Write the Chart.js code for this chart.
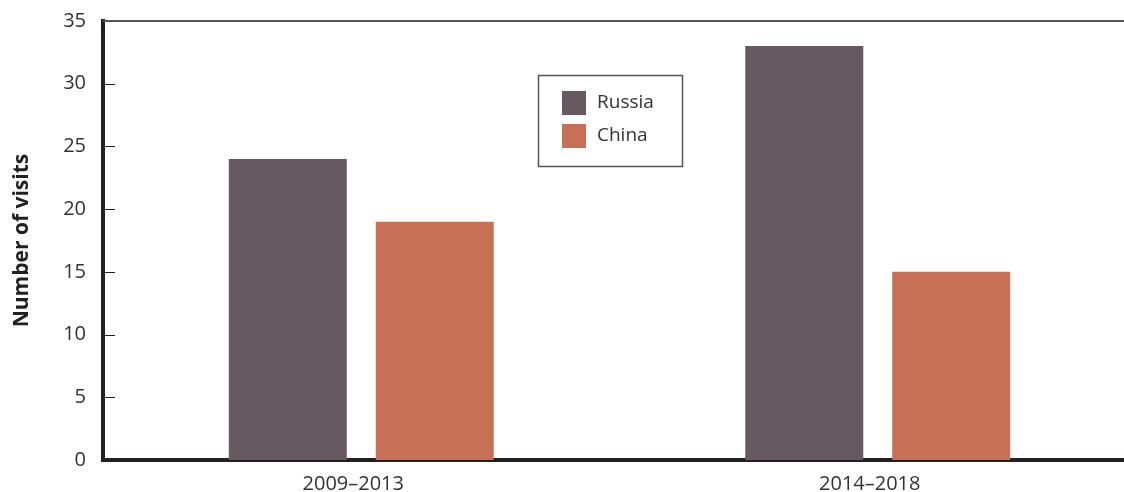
<!DOCTYPE html>
<html>
<head>
<meta charset="utf-8">
<script src="https://cdn.jsdelivr.net/npm/chart.js@4/dist/chart.umd.min.js"></script>
<style>
  html, body { margin: 0; padding: 0; background: #fff; overflow: hidden; }
  #wrap { position: relative; width: 1136px; height: 492px; }
  canvas { display: block; }
</style>
</head>
<body>
<div id="wrap"><canvas id="c" width="1136" height="492"></canvas></div>
<script>
const periods = ['2009–2013', '2014–2018'];
const russiaVisits = [24, 33];
const chinaVisits = [19, 15];
const yTicks = [0, 5, 10, 15, 20, 25, 30, 35];

const FONT = '"Open Sans", Lato, sans-serif';
const INK = '#231f20';

// Short inward tick marks, the thin top rule, and the boxed legend
const decorations = {
  id: 'decorations',
  afterDraw(chart) {
    const { ctx, chartArea } = chart;
    const y = chart.scales.y;
    ctx.save();
    ctx.strokeStyle = INK;
    ctx.lineWidth = 1;
    yTicks.forEach(v => {
      if (v === 0 || v === 35) return;
      const py = Math.round(y.getPixelForValue(v)) + 0.5;
      ctx.beginPath();
      ctx.moveTo(chartArea.left, py);
      ctx.lineTo(chartArea.left + 12, py);
      ctx.stroke();
    });
    // top rule
    ctx.strokeStyle = '#555';
    ctx.lineWidth = 2;
    const ty = Math.round(y.getPixelForValue(35));
    ctx.beginPath();
    ctx.moveTo(chartArea.left, ty);
    ctx.lineTo(chart.width, ty);
    ctx.stroke();

    // legend box
    const bx = 538.5, by = 75.5, bw = 144, bh = 91;
    ctx.strokeStyle = '#555';
    ctx.lineWidth = 1.5;
    ctx.strokeRect(bx, by, bw, bh);
    ctx.font = '19px ' + FONT;
    ctx.textBaseline = 'middle';
    chart.data.datasets.forEach((ds, i) => {
      const sy = 91 + i * 33;
      ctx.fillStyle = ds.backgroundColor;
      ctx.fillRect(562, sy, 24, 24);
      ctx.fillStyle = '#333';
      ctx.fillText(ds.label, 597, sy + 12);
    });
    ctx.restore();
  }
};

new Chart(document.getElementById('c'), {
  type: 'bar',
  data: {
    labels: periods,
    datasets: [
      { label: 'Russia', data: russiaVisits, backgroundColor: '#675960' },
      { label: 'China', data: chinaVisits, backgroundColor: '#c87055' }
    ]
  },
  options: {
    responsive: false,
    animation: false,
    devicePixelRatio: 1,
    layout: { padding: { top: 21, right: 0, left: 0, bottom: 0 } },
    categoryPercentage: 0.569,
    barPercentage: 0.803,
    plugins: { legend: { display: false }, tooltip: { enabled: false } },
    scales: {
      x: {
        grid: { display: false },
        border: { display: true, color: INK, width: 4 },
        ticks: { color: '#333', font: { family: FONT, size: 20 }, padding: 4, maxRotation: 0, labelOffset: -8 },
        afterFit(s) { s.height = 32; s.paddingLeft = 0; s.paddingRight = 0; }
      },
      y: {
        min: 0, max: 35,
        afterBuildTicks(s) { s.ticks = yTicks.map(v => ({ value: v })); },
        grid: { display: false },
        border: { display: true, color: INK, width: 4 },
        ticks: { color: '#333', font: { family: FONT, size: 20 }, padding: 9 },
        title: { display: true, text: 'Number of visits', color: INK, font: { family: FONT, size: 21, weight: 'bold' }, padding: { top: 9, bottom: 0 } },
        afterFit(s) { s.width = 103; s.paddingTop = 0; s.paddingBottom = 0; }
      }
    }
  },
  plugins: [decorations]
});
</script>
</body>
</html>
